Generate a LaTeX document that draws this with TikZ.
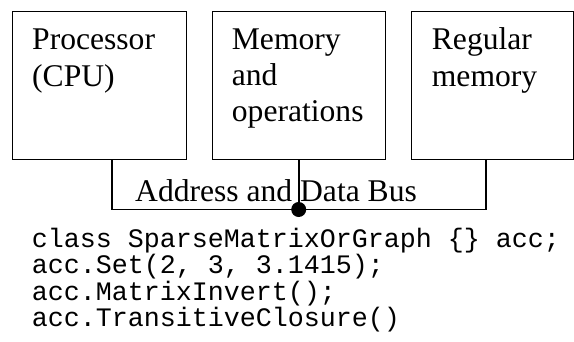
\documentclass[tikz,border=0pt]{standalone}
\usepackage{fontspec}
\setmainfont{Liberation Serif}
\newfontfamily\codefont{Liberation Mono}
\begin{document}
\begin{tikzpicture}[x=1pt,y=-1pt,
  boxstyle/.style={draw=black,line width=1.2pt,inner sep=0pt,anchor=north west},
  boxtext/.style={anchor=base west,inner sep=0pt,font=\fontsize{31.6}{36}\selectfont},
  codetext/.style={anchor=base west,inner sep=0pt,font=\codefont\fontsize{26.67}{26.6}\selectfont},
  busline/.style={draw=black,line width=1.4pt},
]
\useasboundingbox (0,0) rectangle (574,341);
% boxes
\node[boxstyle,minimum width=174.3pt,minimum height=148pt] (cpu) at (11.7,11) {};
\node[boxstyle,minimum width=173.3pt,minimum height=148pt] (mem) at (211.7,11) {};
\node[boxstyle,minimum width=162.3pt,minimum height=148pt] (reg) at (410.7,11) {};
% box texts
\node[boxtext] (t1a) at (32,49.5) {Processor};
\node[boxtext] (t1b) at (32,86) {(CPU)};
\node[boxtext] (t2a) at (231.7,49.5) {Memory};
\node[boxtext] (t2b) at (231.7,85.7) {and};
\node[boxtext] (t2c) at (231.7,121.9) {operations};
\node[boxtext] (t3a) at (431.7,49.5) {Regular};
\node[boxtext] (t3b) at (431.7,86) {memory};
% bus
\coordinate (bl) at (112,209.3);
\coordinate (br) at (486,209.3);
\draw[busline] (bl |- cpu.south) -- (bl) -- (br) -- (br |- reg.south);
\node[circle,fill=black,inner sep=0pt,minimum size=15pt] (dot) at (298.7,209.5) {};
\draw[line width=2.2pt] (mem.south -| dot) -- (dot.center);
\node[boxtext] (bus) at (135,201.7) {Address and Data Bus};
% code
\node[codetext] (c1) at (31.7,247) {class SparseMatrixOrGraph \{\} acc;};
\node[codetext] (c2) at (31.7,273.6) {acc.Set(2, 3, 3.1415);};
\node[codetext] (c3) at (31.7,300.2) {acc.MatrixInvert();};
\node[codetext] (c4) at (31.7,326.8) {acc.TransitiveClosure()};
\end{tikzpicture}
\end{document}
